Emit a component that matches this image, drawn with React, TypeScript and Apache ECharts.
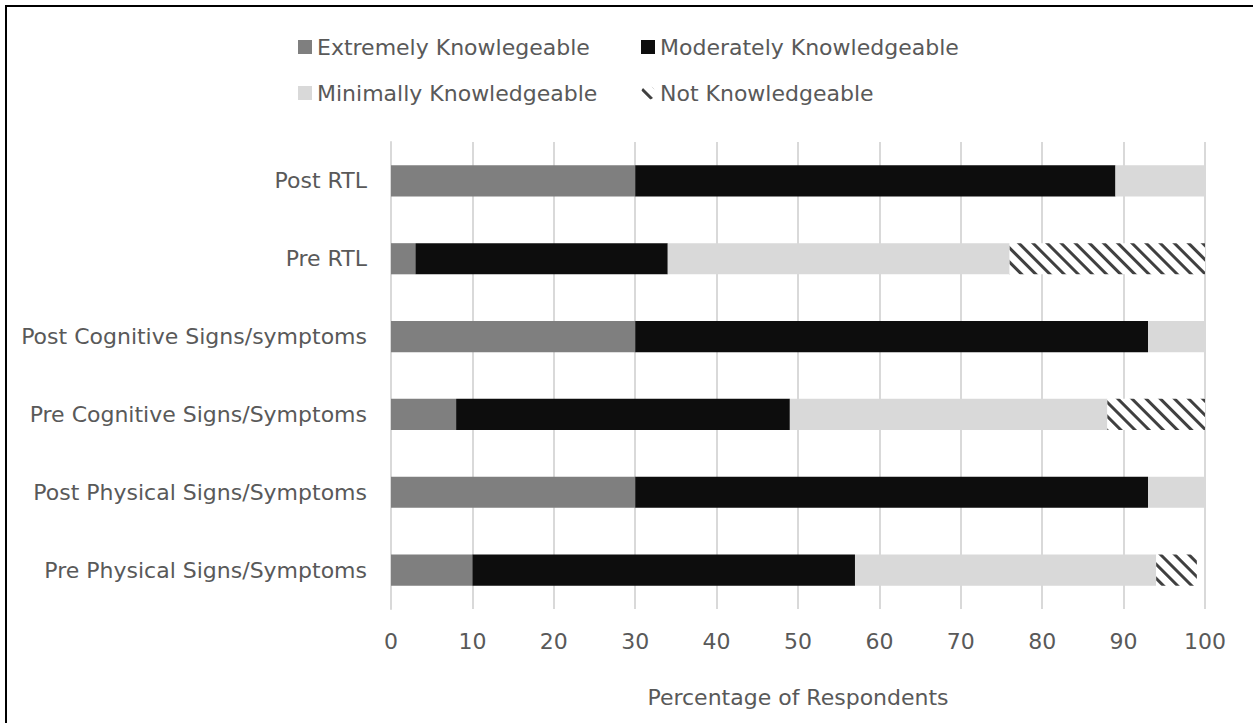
import React, { useEffect, useRef } from "react";
import * as echarts from "echarts";

const categories = [
  "Post RTL",
  "Pre RTL",
  "Post Cognitive Signs/symptoms",
  "Pre Cognitive Signs/Symptoms",
  "Post Physical Signs/Symptoms",
  "Pre Physical Signs/Symptoms",
];
const extremely = [30, 3, 30, 8, 30, 10];
const moderately = [59, 31, 63, 41, 63, 47];
const minimally = [11, 42, 7, 39, 7, 37];
const notKnowledgeable = [0, 24, 0, 12, 0, 5];
const seriesNames = [
  "Extremely Knowlegeable",
  "Moderately Knowledgeable",
  "Minimally Knowledgeable",
  "Not Knowledgeable",
];

const FONT = "DejaVu Sans";
const TEXT = "#595959";

export default function App() {
  const ref = useRef<HTMLDivElement>(null);
  useEffect(() => {
    if (!ref.current) return;
    const chart = echarts.init(ref.current, undefined, { renderer: "svg" });
    const hatch = {
      symbol: "rect",
      symbolSize: 1,
      dashArrayX: [[1, 0]],
      dashArrayY: [3, 7],
      rotation: Math.PI / 4,
      color: "#404040",
    };
    const legendBase = {
      itemWidth: 14,
      itemHeight: 14,
      padding: 0,
      textStyle: { fontFamily: FONT, fontSize: 22, color: TEXT },
      selectedMode: false as const,
    };
    chart.setOption({
      animation: false,
      graphic: [
        {
          type: "rect",
          shape: { x: 6, y: 6, width: 1400, height: 900 },
          style: { fill: "none", stroke: "#000", lineWidth: 2 },
          silent: true,
          z: 100,
        },
      ],
      legend: [
        { ...legendBase, left: 298, top: 36, data: [{ name: seriesNames[0], icon: "rect" }] },
        { ...legendBase, left: 641, top: 36, data: [{ name: seriesNames[1], icon: "rect" }] },
        { ...legendBase, left: 298, top: 82, data: [{ name: seriesNames[2], icon: "rect" }] },
        { ...legendBase, left: 641, top: 82, data: [{ name: seriesNames[3], icon: "circle" }] },
      ],
      grid: { left: 391, right: 48, top: 142, bottom: 114 },
      xAxis: {
        type: "value",
        min: 0,
        max: 100,
        interval: 10,
        axisLine: { show: false },
        axisTick: { show: false },
        splitLine: { show: true, lineStyle: { color: "#d9d9d9", width: 2 } },
        axisLabel: { fontFamily: FONT, fontSize: 22, color: TEXT, margin: 21 },
        name: "Percentage of Respondents",
        nameLocation: "middle",
        nameGap: 77,
        nameTextStyle: { fontFamily: FONT, fontSize: 22, color: TEXT },
      },
      yAxis: {
        type: "category",
        inverse: true,
        data: categories,
        axisLine: { show: true, lineStyle: { color: "#d9d9d9", width: 2 } },
        axisTick: { show: false },
        axisLabel: { fontFamily: FONT, fontSize: 22, color: TEXT, margin: 24 },
      },
      series: [
        {
          name: seriesNames[0],
          type: "bar",
          stack: "total",
          barWidth: "40%",
          itemStyle: { color: "#7f7f7f" },
          data: extremely,
        },
        {
          name: seriesNames[1],
          type: "bar",
          stack: "total",
          itemStyle: { color: "#0d0d0d" },
          data: moderately,
        },
        {
          name: seriesNames[2],
          type: "bar",
          stack: "total",
          itemStyle: { color: "#d9d9d9" },
          data: minimally,
        },
        {
          name: seriesNames[3],
          type: "bar",
          stack: "total",
          itemStyle: { color: "#ffffff", decal: hatch },
          data: notKnowledgeable,
        },
      ],
    });
    return () => chart.dispose();
  }, []);
  return (
    <div
      ref={ref}
      style={{ position: "absolute", left: 0, top: 0, width: 1253, height: 723, background: "#fff" }}
    />
  );
}
